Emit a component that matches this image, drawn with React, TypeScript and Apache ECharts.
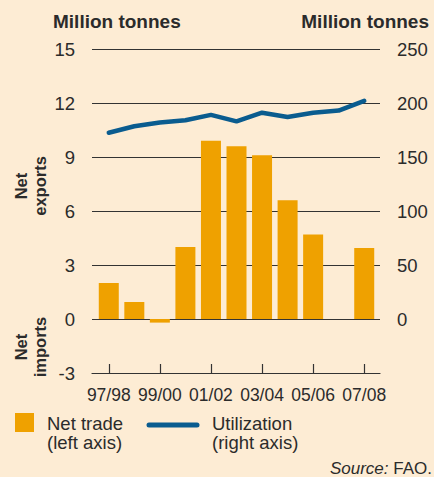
import React, { useEffect, useRef } from "react";
import * as echarts from "echarts";

const categories = ["97/98", "98/99", "99/00", "00/01", "01/02", "02/03", "03/04", "04/05", "05/06", "06/07", "07/08"];
const netTrade: (number | null)[] = [2.0, 0.95, -0.2, 4.0, 9.9, 9.6, 9.1, 6.6, 4.7, null, 3.95];
const utilization = [172.5, 178.5, 182, 184, 189, 183, 191, 187, 191, 193, 202];
const leftTicks = { min: -3, max: 15, interval: 3 };
const rightTicks = { min: -50, max: 250, interval: 50 };

const BG = "#FDECD4";
const BAR = "#EFA100";
const LINE = "#0A5C8F";
const TXT = "#2b2b2b";
const FONT = "'Liberation Sans', Arial, Helvetica, sans-serif";

export default function App() {
  const ref = useRef<HTMLDivElement>(null);
  useEffect(() => {
    if (!ref.current) return;
    const chart = echarts.init(ref.current, null, { renderer: "svg" });
    const gridPos = { top: 49, bottom: 104 };
    chart.setOption({
      animation: false,
      backgroundColor: BG,
      textStyle: { fontFamily: FONT, color: TXT },
      grid: [
        { left: 92, right: 54, ...gridPos },
        { left: 96, right: 57, ...gridPos },
      ],
      xAxis: [
        {
          type: "category",
          gridIndex: 0,
          data: categories,
          position: "bottom",
          axisLine: { onZero: false, lineStyle: { color: "#333", width: 1.2 } },
          axisTick: { show: false },
          axisLabel: { show: false },
        },
        {
          type: "category",
          gridIndex: 1,
          data: categories,
          position: "bottom",
          axisLine: { show: false, onZero: false },
          axisTick: { show: true, inside: true, alignWithLabel: true, interval: 1, length: 9, lineStyle: { color: "#333", width: 1.2 } },
          axisLabel: { interval: 1, margin: 13, fontSize: 17.5, color: TXT, fontFamily: FONT },
        },
      ],
      yAxis: [
        {
          type: "value",
          gridIndex: 0,
          position: "left",
          ...leftTicks,
          axisLine: { show: false },
          axisTick: { show: false },
          axisLabel: { margin: 17, fontSize: 18.5, color: TXT, fontFamily: FONT },
          splitLine: { show: true, lineStyle: { color: "#333", width: 1.2 } },
        },
        {
          type: "value",
          gridIndex: 0,
          position: "right",
          ...rightTicks,
          axisLine: { show: false },
          axisTick: { show: false },
          axisLabel: {
            margin: 17,
            fontSize: 18.5,
            color: TXT,
            fontFamily: FONT,
            formatter: (v: number) => (v < 0 ? "" : String(v)),
          },
          splitLine: { show: false },
        },
        {
          type: "value",
          gridIndex: 1,
          ...leftTicks,
          show: false,
          splitLine: { show: false },
        },
        {
          type: "value",
          gridIndex: 1,
          ...rightTicks,
          show: false,
          splitLine: { show: false },
        },
      ],
      series: [
        {
          name: "Net trade",
          type: "bar",
          xAxisIndex: 1,
          yAxisIndex: 2,
          data: netTrade,
          barWidth: 20,
          itemStyle: { color: BAR },
        },
        {
          name: "Utilization",
          type: "line",
          xAxisIndex: 1,
          yAxisIndex: 3,
          data: utilization,
          symbol: "none",
          lineStyle: { color: LINE, width: 4.5, cap: "round", join: "round" },
        },
      ],
      graphic: [
        {
          type: "text",
          left: 53,
          top: 12,
          style: { text: "Million tonnes", font: `bold 19px ${FONT}`, fill: TXT },
        },
        {
          type: "text",
          right: 5,
          top: 12,
          style: { text: "Million tonnes", font: `bold 19px ${FONT}`, fill: TXT },
        },
        {
          type: "text",
          x: 30,
          y: 186,
          rotation: Math.PI / 2,
          style: {
            text: "Net\nexports",
            font: `bold 16.5px ${FONT}`,
            fill: TXT,
            align: "center",
            verticalAlign: "middle",
            lineHeight: 19,
          },
        },
        {
          type: "text",
          x: 30,
          y: 347,
          rotation: Math.PI / 2,
          style: {
            text: "Net\nimports",
            font: `bold 16.5px ${FONT}`,
            fill: TXT,
            align: "center",
            verticalAlign: "middle",
            lineHeight: 19,
          },
        },
        {
          type: "rect",
          shape: { x: 15, y: 413, width: 19, height: 19 },
          style: { fill: BAR },
        },
        {
          type: "text",
          x: 47,
          y: 413.5,
          style: { text: "Net trade\n(left axis)", font: `18.5px ${FONT}`, fill: TXT, lineHeight: 19, verticalAlign: "top" },
        },
        {
          type: "line",
          shape: { x1: 149, y1: 425, x2: 197, y2: 425 },
          style: { stroke: LINE, lineWidth: 5, lineCap: "round" },
        },
        {
          type: "text",
          x: 212,
          y: 413.5,
          style: { text: "Utilization\n(right axis)", font: `18.5px ${FONT}`, fill: TXT, lineHeight: 19, verticalAlign: "top" },
        },
        {
          type: "text",
          right: 2,
          top: 459.5,
          style: {
            text: "{i|Source:} FAO.",
            font: `17px ${FONT}`,
            fill: TXT,
            rich: { i: { fontStyle: "italic", fontSize: 17, fontFamily: FONT, fill: TXT } },
          },
        },
      ],
    });
    return () => chart.dispose();
  }, []);
  return (
    <div
      ref={ref}
      style={{ position: "fixed", left: 0, top: 0, width: 434, height: 477, background: BG }}
    />
  );
}
